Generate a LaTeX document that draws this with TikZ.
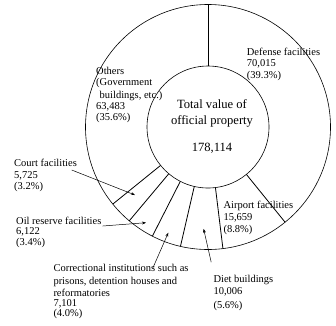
\documentclass[tikz,border=0pt]{standalone}
\usepackage{fontspec}
\setmainfont{Liberation Serif}
\usetikzlibrary{arrows.meta}
\newcommand\stacklines[1]{\vtop{\lineskiplimit=-100pt\relax\lineskip=0pt\relax #1}}
\newcommand\lineat[2]{\baselineskip=#1pt\relax\hbox{#2}}
\begin{document}
\begin{tikzpicture}[x=1pt,y=-1pt,
  ring/.style={circle,draw,line width=0.6pt,inner sep=0pt,outer sep=0pt},
  divider/.style={line width=0.8pt},
  lbl/.style={anchor=base west,inner sep=0pt,font=\fontsize{10.5pt}{11.5pt}\selectfont},
  ctr/.style={anchor=base,inner sep=0pt,font=\fontsize{12.6pt}{15pt}\selectfont},
  pointer/.style={line width=0.5pt,-{Stealth[length=4pt,width=3pt]}}]
\useasboundingbox (0,0) rectangle (336,325);
\coordinate (c) at (208,127);
\node[ring,minimum size=245pt] (outer) at (c) {};
\node[ring,minimum size=122pt] (inner) at (c) {};
% dividers (canvas angles)
\foreach \a in {90,-51.51,-83.16,-103.38,-117.74,-130.11,-141.68}
  \draw[divider] (inner.\a) -- (outer.\a);
% centre text
\node[ctr] (t1) at (212,108.3) {Total value of};
\node[ctr] (t2) at (212,124.3) {official property};
\node[ctr] (t3) at (212,151) {178,114};
% labels
\node[lbl] (def) at (246.7,55.5) {\stacklines{\lineat{0}{Defense facilities}\lineat{11.3}{70,015}\lineat{11.5}{(39.3\%)}}};
\node[lbl] (oth) at (96,74) {\stacklines{\lineat{0}{Others}\lineat{11.7}{(Government}\lineat{12.3}{\hspace{3.5pt}buildings, etc.)}\lineat{11}{63,483}\lineat{11.3}{(35.6\%)}}};
\node[lbl] (crt) at (14,166) {\stacklines{\lineat{0}{Court facilities}\lineat{12}{5,725}\lineat{11}{(3.2\%)}}};
\node[lbl] (oil) at (16,224.7) {\stacklines{\lineat{0}{Oil reserve facilities}\lineat{9.5}{6,122}\lineat{11.5}{(3.4\%)}}};
\node[lbl] (cor) at (53.3,271.3) {\stacklines{\lineat{0}{Correctional institutions such as}\lineat{13}{prisons, detention houses and}\lineat{12}{reformatories}\lineat{9.8}{7,101}\lineat{10.5}{(4.0\%)}}};
\node[lbl] (air) at (223.3,208) {\stacklines{\lineat{0}{Airport facilities}\lineat{12.3}{15,659}\lineat{12}{(8.8\%)}}};
\node[lbl] (die) at (213.3,282.3) {\stacklines{\lineat{0}{Diet buildings}\lineat{12.4}{10,006}\lineat{13.3}{(5.6\%)}}};
% pointers
\coordinate (crtS) at (71.7,170);
\coordinate (crtT) at (135,195);
\coordinate (oilS) at (102.7,226);
\coordinate (oilT) at (146,222.7);
\coordinate (corS) at (152.7,268.3);
\coordinate (corT) at (168.3,232.7);
\coordinate (dieS) at (211.2,262.2);
\coordinate (dieT) at (203.6,228.8);
\draw[pointer] (crtS) -- (crtT);
\draw[pointer] (oilS) -- (oilT);
\draw[pointer] (corS) -- (corT);
\draw[pointer] (dieS) -- (dieT);
\end{tikzpicture}
\end{document}
